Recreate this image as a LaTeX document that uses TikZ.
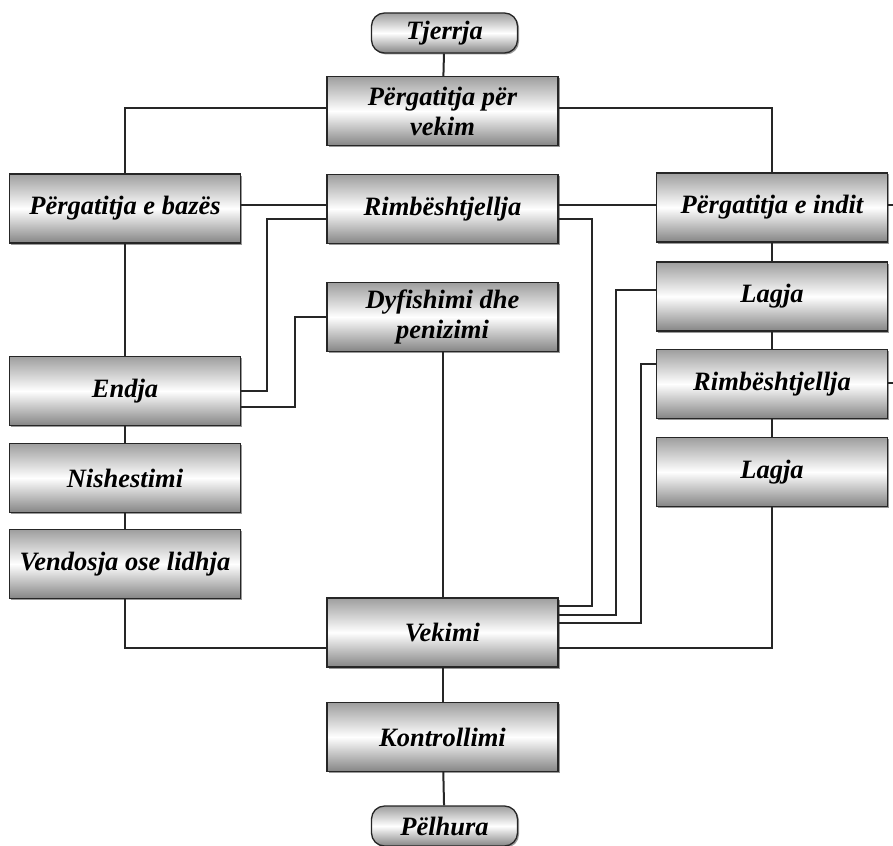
\documentclass[tikz,border=0pt]{standalone}
\usepackage{fontspec}
\setmainfont{Liberation Serif}
\usetikzlibrary{shadows}
\tikzset{proc/.style={draw=black!85,line width=1.3pt,minimum width=231pt,minimum height=69pt,inner sep=0pt,align=center,
   top color=black!38,bottom color=black!48,middle color=white,
   drop shadow={shadow xshift=1.5pt,shadow yshift=-1.5pt,fill=black!40,opacity=1},
   font=\fontsize{26.5}{30}\selectfont\bfseries\itshape},
  term/.style={proc,rounded corners=13pt,minimum width=146pt,minimum height=40pt,drop shadow={opacity=0}},
  link/.style={draw=black!85,line width=2pt}}
\def\pe{\"e}

\begin{document}
\begin{tikzpicture}[x=1pt,y=-1pt]
\useasboundingbox (0,0) rectangle (893,845);
      \node [term] at (444.5,33) (tjerrja) {Tjerrja};
       \node [proc] at (442.5,111) (pv) {P\pe rgatitja p\pe r\\vekim};
        \node [proc] at (125,208.5) (baza) {P\pe rgatitja e baz\pe s};
         \node [proc] at (442.5,209) (rimb) {Rimb\pe shtjellja};
          \node [proc] at (772,207.5) (indi) {P\pe rgatitja e indit};
           \node [proc] at (442.5,317) (dyf) {Dyfishimi dhe\\penizimi};
            \node [proc] at (772,296.5) (lagja a) {Lagja};
             \node [proc] at (125,391) (endja) {Endja};
              \node [proc] at (772,384) (rimb b) {Rimb\pe shtjellja};
               \node [proc] at (772,472) (lagja b) {Lagja};
                \node [proc] at (125,478) (nish) {Nishestimi};
                 \node [proc] at (125,564) (vend) {Vendosja ose lidhja};
                  \node [proc] at (442.5,632.5) (vek) {Vekimi};
                   \node [proc] at (442.5,737) (kontr) {Kontrollimi};
                    \node [term] at (444.5,826) (pelh) {P\pe lhura};
\coordinate (edge a) at (893,205);
\coordinate (edge b) at (893,383);
%
%
\path[link] (tjerrja) -- (pv);
\path[link] ([yshift=3pt]pv.west) -| (baza.north);
\path[link] ([yshift=3pt]pv.east) -| (indi.north);
\path[link] ([yshift=3.5pt]baza.east) -- ([yshift=3.5pt]baza.east -| rimb.west);
\path[link] ([yshift=4pt]rimb.east) -- ([yshift=4pt]rimb.east -| indi.west);
\path[link] ([yshift=2.5pt]indi.east) -- (edge a);
\path[link] ([yshift=1pt]rimb b.east) -- (edge b);
\path[link] (baza) -- (endja);
\path[link] (endja) -- (nish);
\path[link] (nish) -- (vend);
\path[link] (indi) -- (lagja a);
\path[link] (lagja a) -- (rimb b);
\path[link] (rimb b) -- (lagja b);
\path[link] (dyf) -- (vek);
\path[link] (vek) -- (kontr);
\path[link] (kontr) -- (pelh);
\path[link] ([yshift=-10pt]rimb.west) -- ++(-59,0) |- (endja.east);
\path[link] (dyf.west) -- ++(-31,0) |- ([yshift=-16pt]endja.east);
\path[link] ([yshift=-10pt]rimb.east) -- ++(33,0) |- ([yshift=26.5pt]vek.east);
\path[link] ([yshift=6.5pt]lagja a.west) -- ++(-40,0) |- ([yshift=17.5pt]vek.east);
\path[link] ([yshift=20pt]rimb b.west) -- ++(-15,0) |- ([yshift=9.5pt]vek.east);
\path[link] (vend.south) |- ([yshift=-15.5pt]vek.west);
\path[link] (lagja b.south) |- ([yshift=-15.5pt]vek.east);

\end{tikzpicture}
\end{document}
